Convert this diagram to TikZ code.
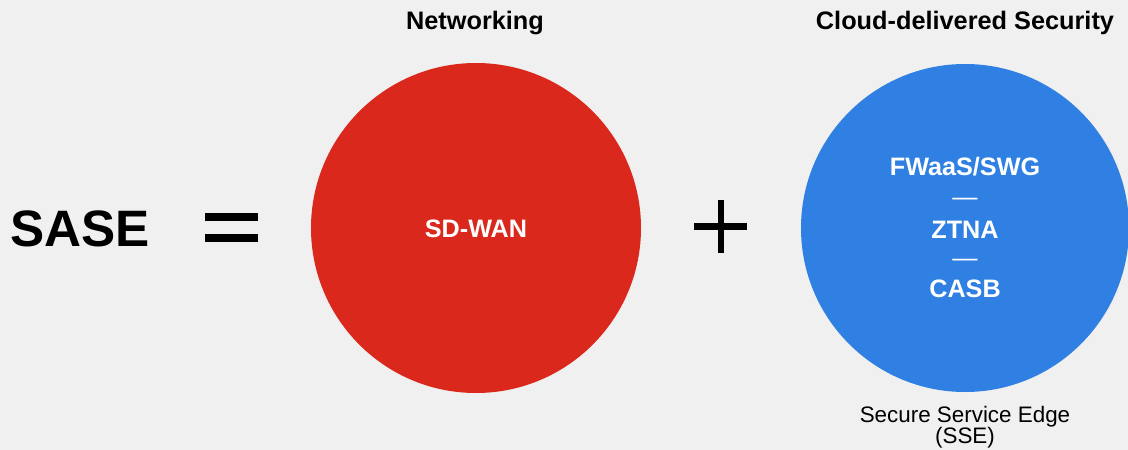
\documentclass[tikz,border=0pt]{standalone}
\usepackage{fontspec}
\setmainfont{Liberation Sans}
\definecolor{bgc}{HTML}{F0F0F0}
\definecolor{redc}{HTML}{DA291C}
\definecolor{bluec}{HTML}{2F80E2}
\begin{document}
\begin{tikzpicture}[x=1pt,y=-1pt,
  every node/.style={inner sep=0pt,outer sep=0pt},
  title/.style={font=\fontsize{25.3}{30}\selectfont\bfseries,anchor=base},
  inner/.style={font=\fontsize{25.2}{30}\selectfont\bfseries,text=white,anchor=base},
  sep/.style={font=\fontsize{25.2}{30}\selectfont,text=white,anchor=base},
  bar/.style={fill=black,draw=none}]
\fill[bgc] (0,0) rectangle (1128,450);
\useasboundingbox (0,0) rectangle (1128,450);
% circles
\fill[redc] (476,228) circle[radius=165];
\fill[bluec] (965,228) circle[radius=164];
% SASE
\node[font=\fontsize{51.2}{56}\selectfont\bfseries,anchor=base west] (sase) at (10,246) {SASE};
% equals
\fill[bar] (205,213) rectangle (258,221);
\fill[bar] (205,234) rectangle (258,242);
% plus
\fill[bar] (694,223) rectangle (747,230);
\fill[bar] (718,200) rectangle (724,253);
% titles
\node[title] (net) at (475,29) {Networking};
\node[title] (sec) at (965,29) {Cloud-delivered Security};
% inner texts
\node[inner] (sdwan) at (476,237) {SD-WAN};
\node[inner] (fw) at (965,175) {FWaaS/SWG};
\node[sep] (d1) at (965,205) {—};
\node[inner] (zt) at (965,238) {ZTNA};
\node[sep] (d2) at (965,266) {—};
\node[inner] (ca) at (965,297) {CASB};
% caption
\node[font=\fontsize{22.4}{25}\selectfont,anchor=base] (sse1) at (965,422) {Secure Service Edge};
\node[font=\fontsize{22.4}{25}\selectfont,anchor=base] (sse2) at (965,443) {(SSE)};
\end{tikzpicture}
\end{document}
